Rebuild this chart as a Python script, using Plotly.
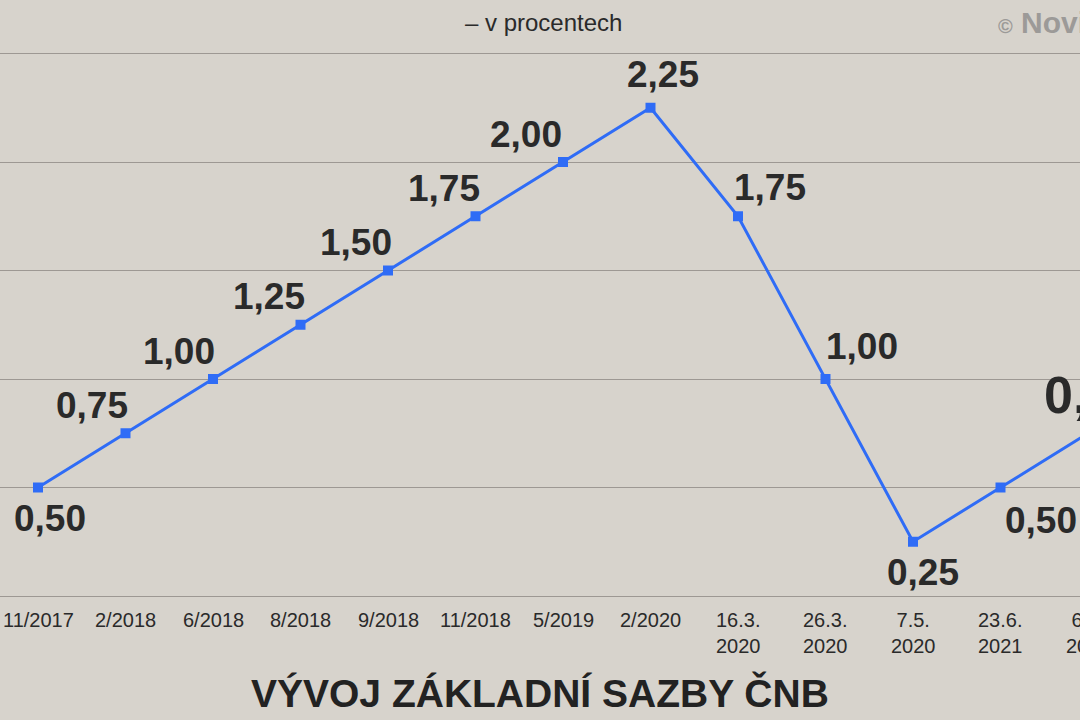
import plotly.graph_objects as go

categories = ["11/2017", "2/2018", "6/2018", "8/2018", "9/2018", "11/2018", "5/2019",
              "2/2020", "16.3.\n2020", "26.3.\n2020", "7.5.\n2020", "23.6.\n2021", "6.8.\n2021"]
rates = [0.50, 0.75, 1.00, 1.25, 1.50, 1.75, 2.00, 2.25, 1.75, 1.00, 0.25, 0.50, 0.75]
rate_labels = ["0,50", "0,75", "1,00", "1,25", "1,50", "1,75", "2,00", "2,25",
               "1,75", "1,00", "0,25", "0,50", "0,75"]
grid_values = [0, 0.5, 1.0, 1.5, 2.0, 2.5]

# label offsets in pixels (style)
label_shift = [(12, -31), (-34, 28), (-34, 28), (-32, 28), (-32, 28), (-32, 28), (-37, 28),
               (12, 33), (32, 29), (36, 33), (10, -31), (40, -33), (6, 38)]
label_size = [37] * 12 + [52]

FIG_W = 1180  # wider than the 1080 window: the right part is cropped like the reference
x = list(range(len(categories)))

fig = go.Figure()
fig.add_trace(go.Scatter(
    x=x, y=rates, mode="lines+markers",
    line=dict(color="#2f6cf6", width=3),
    marker=dict(symbol="square", size=10, color="#2f6cf6"),
    hoverinfo="skip", showlegend=False,
))

ann = []
for i, (lab, v) in enumerate(zip(rate_labels, rates)):
    dx, dy = label_shift[i]
    ann.append(dict(x=i, y=v, xref="x", yref="y", text=lab, showarrow=False,
                    xanchor="center", yanchor="middle", xshift=dx, yshift=dy,
                    font=dict(family="Liberation Sans, Arial", size=label_size[i],
                              color="#2a2a2a", weight="bold")))

for i, cat in enumerate(categories):
    ann.append(dict(x=i, y=1 - 607 / 720, xref="x", yref="paper",
                    text=cat.replace("\n", "<br>"),
                    showarrow=False, xanchor="center", yanchor="top",
                    font=dict(family="Liberation Sans, Arial", size=20, color="#2a2a2a")))

ann.append(dict(x=540 / FIG_W, y=1 - 693 / 720, xref="paper", yref="paper",
                text="VÝVOJ ZÁKLADNÍ SAZBY ČNB", showarrow=False,
                xanchor="center", yanchor="middle",
                font=dict(family="Liberation Sans, Arial",
                          size=39, color="#222222", weight="bold")))
ann.append(dict(x=543 / FIG_W, y=1 - 22 / 720, xref="paper", yref="paper",
                text="– v procentech", showarrow=False,
                xanchor="center", yanchor="middle",
                font=dict(family="Liberation Sans, Arial", size=24, color="#2a2a2a")))
ann.append(dict(x=996 / FIG_W, y=1 - 22 / 720, xref="paper", yref="paper",
                text="<span style='font-size:20px'>©</span> Novinky", showarrow=False,
                xanchor="left", yanchor="middle",
                font=dict(family="Liberation Sans, Arial",
                          size=30, color="#9c9a98", weight="bold")))

fig.update_layout(
    width=FIG_W, height=720,
    margin=dict(l=0, r=0, t=0, b=0),
    paper_bgcolor="#d7d3cc", plot_bgcolor="#d7d3cc",
    annotations=ann,
    xaxis=dict(range=[-38 / 87.5, (FIG_W - 38) / 87.5], showgrid=False, zeroline=False,
               showticklabels=False, showline=False, fixedrange=True),
    yaxis=dict(range=[-(720 - 596) / 217, 596 / 217], tickvals=grid_values,
               showticklabels=False, showgrid=True, gridcolor="#9d9893", gridwidth=1,
               zeroline=False, showline=False, fixedrange=True),
)

fig.write_html(
    "out.html",
    config={"displayModeBar": False},
    post_script=("document.body.style.margin='0';"
                 "document.body.style.overflow='hidden';"
                 "document.documentElement.style.overflow='hidden';"),
)
